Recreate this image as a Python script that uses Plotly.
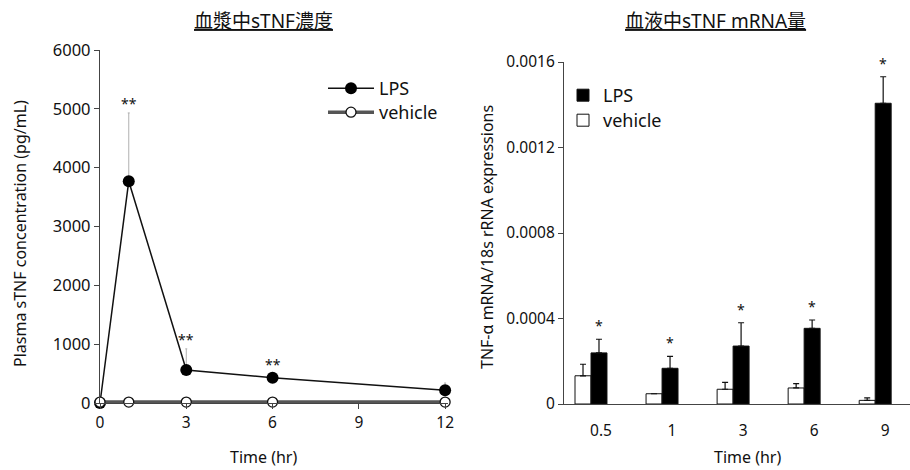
import plotly.graph_objects as go

# ---- Left panel data: plasma sTNF concentration ----
time_hr = [0, 1, 3, 6, 12]
lps_conc = [0, 3770, 560, 430, 215]
lps_conc_err = [0, 1160, 360, 60, 125]
veh_conc = [15, 15, 15, 15, 15]
conc_sig = ["", "**", "**", "**", ""]
left_yticks = [0, 1000, 2000, 3000, 4000, 5000, 6000]
left_xticks = [0, 3, 6, 9, 12]

# ---- Right panel data: blood sTNF mRNA ----
mrna_cats = ["0.5", "1", "3", "6", "9"]
veh_mrna = [0.000132, 0.000048, 0.000069, 0.000075, 0.000017]
veh_mrna_err = [0.000054, 0.0, 0.000032, 0.000020, 0.000012]
lps_mrna = [0.000239, 0.000167, 0.000271, 0.000354, 0.001407]
lps_mrna_err = [0.000064, 0.000056, 0.000109, 0.000039, 0.000124]
mrna_sig = ["*", "*", "*", "*", "*"]
right_yticks = [0, 0.0004, 0.0008, 0.0012, 0.0016]
right_yticktext = ["0", "0.0004", "0.0008", "0.0012", "0.0016"]

FONT = "Noto Sans, Noto Sans CJK JP, sans-serif"
TXT = "#111111"
W, H = 910, 470

fig = go.Figure()

# Left: LPS
fig.add_trace(go.Scatter(
    x=time_hr, y=lps_conc, mode="lines+markers", name="LPS",
    line=dict(color="#111111", width=1.5),
    marker=dict(symbol="circle", size=12, color="#000000"),
    error_y=dict(type="data", array=lps_conc_err, arrayminus=[0] * len(lps_conc_err),
                 symmetric=False, color="#b0b0b0", thickness=1, width=1),
    xaxis="x", yaxis="y", legend="legend", showlegend=True, cliponaxis=False,
))
# Left: vehicle (thick gray line, open markers), drawn on top
fig.add_trace(go.Scatter(
    x=time_hr, y=veh_conc, mode="lines+markers", name="vehicle",
    line=dict(color="#555555", width=3.5),
    marker=dict(symbol="circle", size=10, color="white", line=dict(color="#111", width=1.3)),
    xaxis="x", yaxis="y", legend="legend3", showlegend=True, cliponaxis=False,
))

# Right: bars
fig.add_trace(go.Bar(
    x=list(range(len(mrna_cats))), y=veh_mrna, name="vehicle",
    marker=dict(color="white", line=dict(color="#111", width=1)),
    error_y=dict(type="data", array=veh_mrna_err, arrayminus=[0] * len(veh_mrna_err),
                 symmetric=False, color="#111", thickness=1.2, width=3),
    xaxis="x2", yaxis="y2", legend="legend4", showlegend=True,
))
fig.add_trace(go.Bar(
    x=list(range(len(mrna_cats))), y=lps_mrna, name="LPS",
    marker=dict(color="black", line=dict(color="#111", width=1)),
    error_y=dict(type="data", array=lps_mrna_err, arrayminus=[0] * len(lps_mrna_err),
                 symmetric=False, color="#111", thickness=1.2, width=3),
    xaxis="x2", yaxis="y2", legend="legend2", showlegend=True,
))

annotations = []
# significance marks, left
for t, v, e, s in zip(time_hr, lps_conc, lps_conc_err, conc_sig):
    if s:
        annotations.append(dict(x=t, y=v + e, xref="x", yref="y", text=s, showarrow=False,
                                xanchor="center", yanchor="bottom", yshift=-2,
                                font=dict(family=FONT, size=14, color=TXT)))
# significance marks, right (above LPS bars)
bargap = 0.55
lps_off = (1 - bargap) / 4
for i, (v, e, s) in enumerate(zip(lps_mrna, lps_mrna_err, mrna_sig)):
    annotations.append(dict(x=i + lps_off, y=v + e, xref="x2", yref="y2", text=s, showarrow=False,
                            xanchor="center", yanchor="bottom", yshift=2,
                            font=dict(family=FONT, size=14, color=TXT)))

# titles
annotations.append(dict(x=263 / W, y=1 - 21 / H, xref="paper", yref="paper",
                        text="<u>血漿中sTNF濃度</u>", showarrow=False,
                        xanchor="center", yanchor="middle",
                        font=dict(family=FONT, size=19, color=TXT)))
annotations.append(dict(x=715 / W, y=1 - 21 / H, xref="paper", yref="paper",
                        text="<u>血液中sTNF mRNA量</u>", showarrow=False,
                        xanchor="center", yanchor="middle",
                        font=dict(family=FONT, size=19, color=TXT)))
# axis titles
annotations.append(dict(x=263 / W, y=1 - 457 / H, xref="paper", yref="paper",
                        text="Time (hr)", showarrow=False, xanchor="center", yanchor="middle",
                        font=dict(family=FONT, size=16, color=TXT)))
annotations.append(dict(x=747 / W, y=1 - 457 / H, xref="paper", yref="paper",
                        text="Time (hr)", showarrow=False, xanchor="center", yanchor="middle",
                        font=dict(family=FONT, size=16, color=TXT)))
annotations.append(dict(x=20 / W, y=1 - 234 / H, xref="paper", yref="paper",
                        text="Plasma sTNF concentration (pg/mL)", showarrow=False, textangle=-90,
                        xanchor="center", yanchor="middle",
                        font=dict(family=FONT, size=16, color=TXT)))
annotations.append(dict(x=487 / W, y=1 - 237 / H, xref="paper", yref="paper",
                        text="TNF-α mRNA/18s rRNA expressions", showarrow=False, textangle=-90,
                        xanchor="center", yanchor="middle",
                        font=dict(family=FONT, size=16, color=TXT)))

axis_common = dict(showgrid=False, zeroline=False, showline=True, linecolor="#444",
                   linewidth=1.3, ticks="outside", tickcolor="#444", ticklen=5,
                   automargin=False,
                   tickfont=dict(family=FONT, size=15.5, color=TXT))

leg_font = dict(family=FONT, size=18, color=TXT)
fig.update_layout(
    width=W, height=H, margin=dict(l=0, r=0, t=0, b=0, pad=0, autoexpand=False),
    paper_bgcolor="white", plot_bgcolor="white", showlegend=True,
    barmode="group", bargap=bargap, bargroupgap=0,
    xaxis=dict(domain=[100 / W, 448 / W], range=[0, 12.1], tickvals=left_xticks,
               anchor="y", **axis_common),
    yaxis=dict(domain=[1 - 403 / H, 1 - 50 / H], range=[0, 6000], tickvals=left_yticks,
               anchor="x", ticksuffix="\u00a0\u00a0",
               **{**axis_common, "tickfont": dict(family=FONT, size=16.5, color=TXT)}),
    xaxis2=dict(domain=[564 / W, 1.0], range=[-0.38, 4.49], tickvals=list(range(len(mrna_cats))),
                ticktext=mrna_cats, anchor="y2", ticklabelshift=10, ticklabelstandoff=12,
                **{**axis_common, "ticks": ""}),
    yaxis2=dict(domain=[1 - 404 / H, 1 - 62 / H], range=[0, 0.0016], tickvals=right_yticks,
                ticktext=right_yticktext, anchor="x2", **axis_common),
    legend=dict(x=323 / W, y=1 - 70 / H, xanchor="left", yanchor="top", visible=True,
                bgcolor="rgba(0,0,0,0)", itemwidth=46, font=leg_font),
    legend3=dict(x=323 / W, y=1 - 94 / H, xanchor="left", yanchor="top", visible=True,
                 bgcolor="rgba(0,0,0,0)", itemwidth=46, font=leg_font),
    legend2=dict(x=563 / W, y=1 - 77 / H, xanchor="left", yanchor="top", visible=True,
                 bgcolor="rgba(0,0,0,0)", font=leg_font),
    legend4=dict(x=563 / W, y=1 - 102 / H, xanchor="left", yanchor="top", visible=True,
                 bgcolor="rgba(0,0,0,0)", font=leg_font),
    annotations=annotations,
)

fig.write_html("out.html")
